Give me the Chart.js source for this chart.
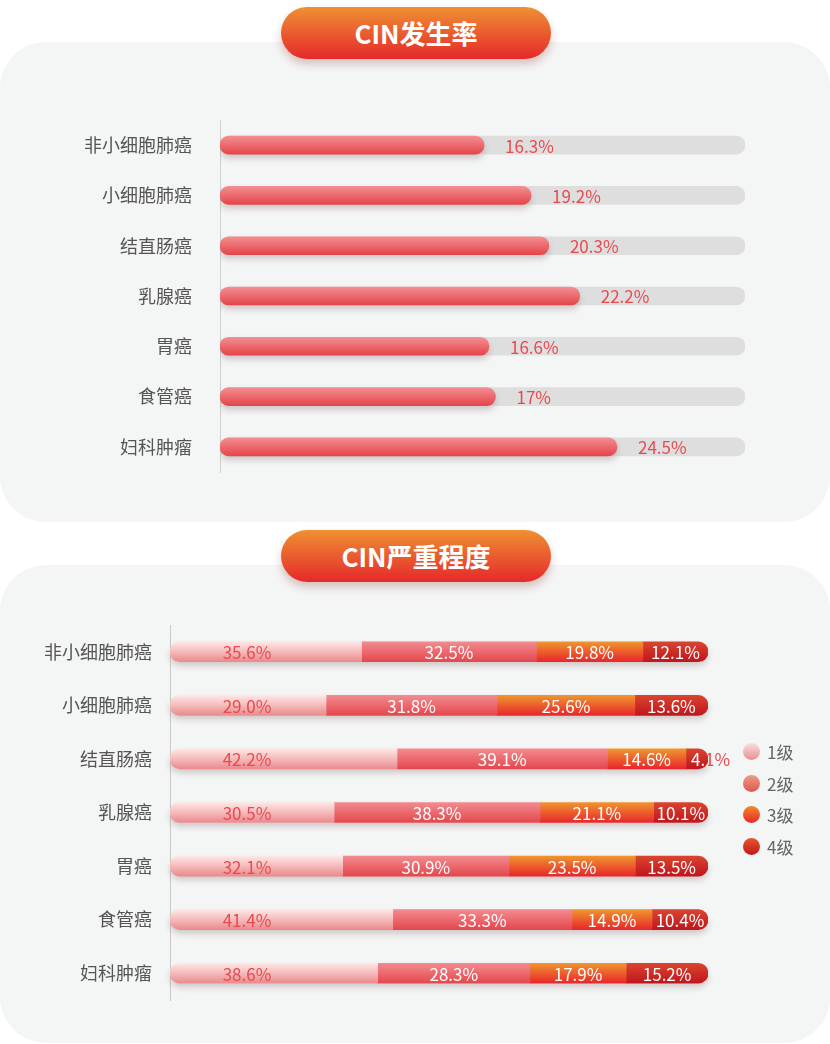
<!DOCTYPE html>
<html lang="zh">
<head>
<meta charset="utf-8">
<script src="https://cdn.jsdelivr.net/npm/chart.js@4.4.1/dist/chart.umd.min.js"></script>
<style>
  body { margin: 0; width: 830px; height: 1044px; background: #fff; position: relative; overflow: hidden;
         font-family: 'Noto Sans CJK SC', 'Noto Sans', sans-serif; }
  .card { position: absolute; left: 0; width: 830px; background: #f4f5f5; border-radius: 46px; }
  .badge { position: absolute; left: 281px; width: 270px; height: 52px; border-radius: 26px;
           background: linear-gradient(#ef9032, #e5292b); box-shadow: 0 5px 8px rgba(120, 40, 20, .25);
           color: #fff; font-size: 26px; font-weight: bold; text-align: center; line-height: 52px; }
  canvas { position: absolute; left: 0; }
  .legend { position: absolute; left: 743px; top: 736px; }
  .legend div { height: 31.5px; display: flex; align-items: center; font-size: 17px; color: #666; }
  .legend span { width: 17px; height: 17px; border-radius: 50%; margin-right: 7px; display: inline-block; }
</style>
</head>
<body>
<div class="card" style="top:42px;height:480px"></div>
<div class="card" style="top:565px;height:478px"></div>
<div class="badge" style="top:7px">CIN发生率</div>
<div class="badge" style="top:530px">CIN严重程度</div>
<canvas id="rate" width="830" height="380" style="top:110px"></canvas>
<canvas id="grade" width="830" height="420" style="top:600px"></canvas>
<div class="legend" id="legend"></div>

<script>
// data
const categories = ['非小细胞肺癌', '小细胞肺癌', '结直肠癌', '乳腺癌', '胃癌', '食管癌', '妇科肿瘤'];
const cinRate = [16.3, 19.2, 20.3, 22.2, 16.6, 17, 24.5];
const rateMax = 32.4;

const gradeNames = ['1级', '2级', '3级', '4级'];
const grade1 = [35.6, 29.0, 42.2, 30.5, 32.1, 41.4, 38.6];
const grade2 = [32.5, 31.8, 39.1, 38.3, 30.9, 33.3, 28.3];
const grade3 = [19.8, 25.6, 14.6, 21.1, 23.5, 14.9, 17.9];
const grade4 = [12.1, 13.6, 4.1, 10.1, 13.5, 10.4, 15.2];

const font = "'Noto Sans CJK SC', 'Noto Sans', sans-serif";
Chart.defaults.font.family = font;
Chart.defaults.animation = false;

const red = '#e84a4f';

// vertical gradient across one bar, placed with the y scale
function rowGradient(c, stops, fallback) {
  const chart = c.chart, ys = chart.scales.y;
  if (!chart.chartArea || !ys || c.dataIndex === undefined) return fallback;
  const y = ys.getPixelForValue(c.dataIndex);
  if (!isFinite(y)) return fallback;
  const h = c.dataset.barThickness / 2;
  const g = chart.ctx.createLinearGradient(0, y - h, 0, y + h);
  stops.forEach((s, i) => g.addColorStop(i / (stops.length - 1), s));
  return g;
}

function roundBar(ctx, l, t, w, h) {
  ctx.beginPath();
  ctx.roundRect(l, t, w, h, h / 2);
}

// fixed axis width, no extra padding from the tick labels
function fixAxis(width) {
  return s => {
    s.width = width;
    s.paddingTop = 0;
    s.paddingBottom = 0;
  };
}

// ---- chart 1: CIN发生率 ----
const rateShadow = {
  id: 'rateShadow',
  beforeDatasetDraw(chart, args) {
    if (args.index !== 0) return;
    const ctx = chart.ctx;
    ctx.save();
    ctx.shadowColor = 'rgba(80, 40, 40, 0.22)';
    ctx.shadowBlur = 6;
    ctx.shadowOffsetY = 4;
  },
  afterDatasetDraw(chart, args) {
    if (args.index === 0) chart.ctx.restore();
  }
};

const rateLabels = {
  id: 'rateLabels',
  afterDatasetsDraw(chart) {
    const ctx = chart.ctx;
    ctx.save();
    ctx.font = '17px ' + font;
    ctx.fillStyle = red;
    ctx.textAlign = 'left';
    ctx.textBaseline = 'middle';
    chart.getDatasetMeta(0).data.forEach((el, i) => {
      ctx.fillText(cinRate[i] + '%', el.x + 21, el.y + 1);
    });
    ctx.restore();
  }
};

new Chart(document.getElementById('rate'), {
  type: 'bar',
  data: {
    labels: categories,
    datasets: [
      {
        label: 'CIN发生率', data: cinRate, barThickness: 18, borderRadius: 9, borderSkipped: false,
        grouped: false, order: 1,
        backgroundColor: c => rowGradient(c, ['#f38e92', '#e4454b'], '#e95a5f')
      },
      {
        label: '', data: categories.map(() => rateMax), barThickness: 18, borderRadius: 9,
        borderSkipped: false, grouped: false, order: 2, backgroundColor: '#dedede'
      }
    ]
  },
  options: {
    indexAxis: 'y',
    responsive: false,
    layout: { autoPadding: false, padding: { top: 10, bottom: 18, right: 85 } },
    plugins: { legend: { display: false }, tooltip: { enabled: false } },
    scales: {
      x: { display: false, min: 0, max: rateMax },
      y: {
        grid: { display: false },
        border: { color: '#d0d0d0' },
        ticks: { color: '#555', font: { size: 18 }, padding: 20 },
        afterFit: fixAxis(220)
      }
    }
  },
  plugins: [rateShadow, rateLabels]
});

// ---- chart 2: CIN严重程度 ----
const gradeData = [grade1, grade2, grade3, grade4];
const gradeStops = [
  ['#fde7e5', '#f5baba', '#e98a8d'],
  ['#f28b8f', '#e4474d'],
  ['#f0952f', '#e8262a'],
  ['#d9442f', '#c0161c']
];
const legendDots = [
  'linear-gradient(#fbdcdc, #e88f92)',
  'linear-gradient(#f09a86, #dd5656)',
  'linear-gradient(#f08c2a, #e8282a)',
  'linear-gradient(#e35a2e, #c3161b)'
];

const gradeShadow = {
  id: 'gradeShadow',
  beforeDatasetsDraw(chart) {
    const ctx = chart.ctx;
    const first = chart.getDatasetMeta(0).data;
    const last = chart.getDatasetMeta(gradeData.length - 1).data;
    ctx.save();
    ctx.shadowColor = 'rgba(80, 40, 40, 0.22)';
    ctx.shadowBlur = 6;
    ctx.shadowOffsetY = 4;
    ctx.fillStyle = '#eeeeee';
    first.forEach((el, i) => {
      roundBar(ctx, el.base, el.y - el.height / 2, last[i].x - el.base, el.height);
      ctx.fill();
    });
    ctx.restore();
  }
};

const gradeLabels = {
  id: 'gradeLabels',
  afterDatasetsDraw(chart) {
    const ctx = chart.ctx;
    ctx.save();
    ctx.font = '17px ' + font;
    ctx.textBaseline = 'middle';
    gradeData.forEach((arr, k) => {
      chart.getDatasetMeta(k).data.forEach((el, i) => {
        const txt = arr[i].toFixed(1) + '%';
        const cy = el.y + 1;
        const w = Math.abs(el.x - el.base);
        ctx.textAlign = 'center';
        if (k === 0) {
          // first grade labels sit near the start of long segments
          ctx.fillStyle = red;
          ctx.fillText(txt, Math.min((el.x + el.base) / 2, el.base + 77), cy);
          return;
        }
        if (ctx.measureText(txt).width > w) {
          // text spills over the segment: red outside, white inside
          ctx.textAlign = 'left';
          const tx = el.base + 5;
          ctx.fillStyle = red;
          ctx.fillText(txt, tx, cy);
          ctx.save();
          ctx.beginPath();
          ctx.rect(el.base, el.y - el.height / 2, w, el.height);
          ctx.clip();
          ctx.fillStyle = '#fff';
          ctx.fillText(txt, tx, cy);
          ctx.restore();
        } else {
          ctx.fillStyle = '#fff';
          ctx.fillText(txt, (el.x + el.base) / 2, cy);
        }
      });
    });
    ctx.restore();
  }
};

new Chart(document.getElementById('grade'), {
  type: 'bar',
  data: {
    labels: categories,
    datasets: gradeData.map((d, k) => ({
      label: gradeNames[k],
      data: d,
      barThickness: 20,
      borderSkipped: false,
      borderRadius: k === 0 ? { topLeft: 10, bottomLeft: 10, topRight: 0, bottomRight: 0 }
        : k === gradeData.length - 1 ? { topLeft: 0, bottomLeft: 0, topRight: 10, bottomRight: 10 } : 0,
      backgroundColor: c => rowGradient(c, gradeStops[k], gradeStops[k][1])
    }))
  },
  options: {
    indexAxis: 'y',
    responsive: false,
    layout: { autoPadding: false, padding: { top: 25, bottom: 20, right: 122 } },
    plugins: { legend: { display: false }, tooltip: { enabled: false } },
    scales: {
      x: { display: false, stacked: true, min: 0, max: 100 },
      y: {
        stacked: true,
        grid: { display: false },
        border: { color: '#c8c8c8' },
        ticks: { color: '#555', font: { size: 18 }, padding: 10 },
        afterFit: fixAxis(170)
      }
    }
  },
  plugins: [gradeShadow, gradeLabels]
});

// legend
const legend = document.getElementById('legend');
gradeNames.forEach((name, k) => {
  const row = document.createElement('div');
  const dot = document.createElement('span');
  dot.style.background = legendDots[k];
  row.appendChild(dot);
  row.appendChild(document.createTextNode(name));
  legend.appendChild(row);
});
</script>
</body>
</html>
